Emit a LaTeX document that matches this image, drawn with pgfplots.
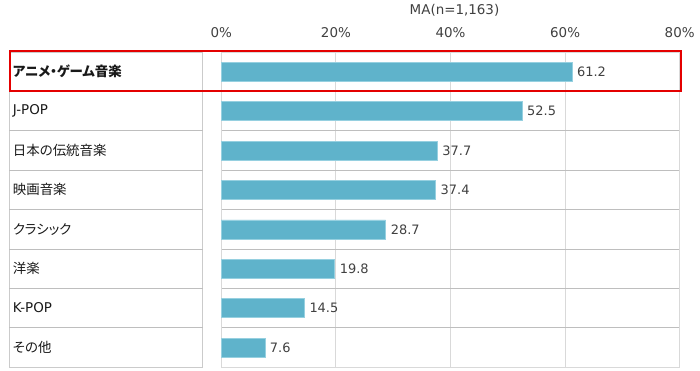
\documentclass[border=0pt]{standalone}
\usepackage{fontspec}
\setmainfont{DejaVu Sans}
\newfontfamily\jp[RawFeature=+palt]{Noto Sans CJK JP}
\usepackage{pgfplots}
\pgfplotsset{compat=1.18}
\definecolor{barc}{RGB}{95,179,203}
\definecolor{baredge}{RGB}{150,208,224}
\definecolor{gridc}{RGB}{217,217,217}
\definecolor{rowc}{RGB}{190,190,190}
\definecolor{boxred}{RGB}{228,0,0}
\definecolor{txt}{RGB}{64,64,64}
\begin{document}
\begin{tikzpicture}
\begin{axis}[
  at={(221.3bp,3.8bp)}, anchor=south west,
  scale only axis, width=458.4bp, height=315.2bp,
  xbar, bar width=19bp,
  xmin=0, xmax=80, ymin=0.5, ymax=8.5, y dir=reverse,
  xtick={0,20,40,60,80}, xticklabel pos=upper,
  xticklabel={\pgfmathprintnumber{\tick}\%},
  xticklabel style={font=\fontsize{13.5}{15}\selectfont, text=txt, anchor=center, yshift=19bp},
  ytick={1,2,3,4,5,6,7,8},
  yticklabels={{\jp\bfseries アニメ・ゲーム音楽},{J-POP},{\jp 日本の伝統音楽},{\jp 映画音楽},{\jp クラシック},{\jp 洋楽},{K-POP},{\jp その他}},
  yticklabel style={anchor=west, inner sep=0pt, xshift=-208.6bp, font=\fontsize{13.5}{15}\selectfont, text=black!90},
  minor ytick={1.5,2.5,3.5,4.5,5.5,6.5,7.5},
  yminorgrids, minor grid style={rowc, line width=0.9bp},
  xmajorgrids, major grid style={gridc, line width=1bp},
  axis line style={gridc, line width=1bp},
  major tick length=0pt, minor tick length=0pt,
  /pgf/number format/assume math mode=true,
  point meta=x,
  nodes near coords,
  nodes near coords style={anchor=west, xshift=1.5bp, font=\fontsize{13}{15}\selectfont, text=txt,
    /pgf/number format/.cd, fixed, fixed zerofill, precision=1, assume math mode=true},
  clip=false,
]
\addplot[fill=barc, draw=baredge, line width=0.6bp] coordinates {
  (61.2,1) (52.5,2) (37.7,3) (37.4,4) (28.7,5) (19.8,6) (14.5,7) (7.6,8)};
\end{axis}
% left label table
\draw[rowc!80!white, line width=0.9bp] (9.3bp,3.8bp) rectangle (202.7bp,319bp);
\foreach \yy in {279.6,240.2,200.8,161.4,122,82.6,43.2}
  \draw[rowc, line width=0.9bp] (9.3bp,\yy bp) -- (202.7bp,\yy bp);
% title
\node[font=\fontsize{13.5}{15}\selectfont, text=txt] at (454.5bp,361bp) {MA(n=1,163)};
% highlight box
\draw[boxred, line width=2bp] (9.7bp,279.7bp) rectangle (680.8bp,319.7bp);
\pgfresetboundingbox
\path[use as bounding box] (0,0) rectangle (700bp,371bp);
\end{tikzpicture}
\end{document}
